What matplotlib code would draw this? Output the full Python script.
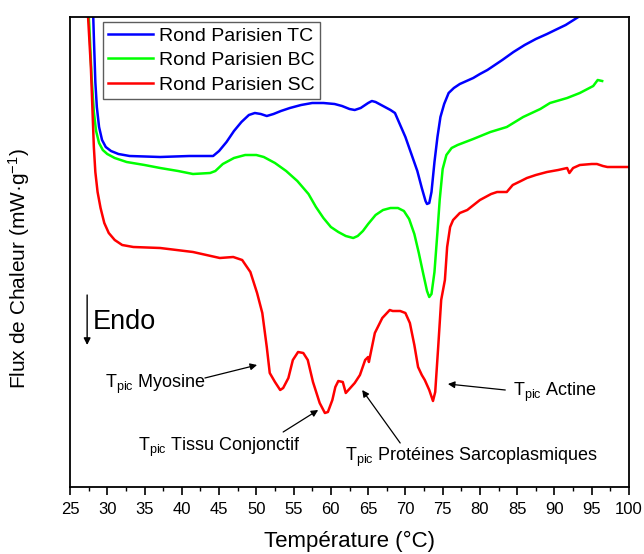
import matplotlib
matplotlib.use("Agg")
import matplotlib.pyplot as plt
from matplotlib.ticker import MultipleLocator

plt.rcParams['font.family'] = ['Liberation Sans', 'DejaVu Sans']
plt.rcParams['mathtext.fontset'] = 'custom'
plt.rcParams['mathtext.rm'] = 'Liberation Sans'
plt.rcParams['mathtext.it'] = 'Liberation Sans'

# ---- data (temperature in °C, heat flux in arbitrary units) ----
t_tc = [28.0, 28.2, 28.4, 28.6, 28.9, 29.3, 29.8, 30.5, 31.5, 33.0, 37.1, 41.0, 44.2,
        45.0, 46.0, 47.0, 48.0, 49.0, 49.8, 50.6, 51.4, 52.3, 53.3, 54.5, 56.0, 57.5,
        59.0, 60.5, 61.5, 62.5, 63.2, 64.0, 65.0, 65.5, 66.0, 67.0, 68.0, 68.6, 69.3,
        70.0, 70.8, 71.6, 72.2, 72.7, 72.9, 73.2, 73.5, 73.9, 74.3, 74.7, 75.2, 75.8,
        76.5, 77.3, 78.2, 79.1, 80.0, 81.0, 82.0, 83.0, 84.5, 86.0, 87.5, 89.0, 90.1,
        91.5, 93.2]
f_tc = [50.0, 45.0, 40.5, 38.0, 36.0, 34.7, 34.0, 33.6, 33.3, 33.1, 33.0, 33.1, 33.1,
        33.6, 34.5, 35.6, 36.5, 37.2, 37.4, 37.3, 37.1, 37.3, 37.6, 37.9, 38.2, 38.4,
        38.4, 38.3, 38.1, 37.8, 37.7, 37.9, 38.4, 38.6, 38.5, 38.1, 37.7, 37.4, 36.2,
        35.0, 33.3, 31.6, 29.9, 28.6, 28.3, 28.4, 29.5, 32.5, 35.0, 37.0, 38.3, 39.4,
        39.9, 40.3, 40.6, 40.9, 41.3, 41.7, 42.2, 42.7, 43.5, 44.2, 44.8, 45.3, 45.7,
        46.2, 47.0]

t_bc = [27.3, 27.6, 27.9, 28.2, 28.5, 28.9, 29.4, 30.0, 31.0, 32.6, 35.0, 37.1, 39.5,
        41.5, 43.8, 44.5, 45.5, 47.0, 48.5, 50.0, 51.0, 52.5, 54.0, 55.5, 57.0, 58.0,
        59.0, 60.0, 61.0, 62.0, 63.0, 63.6, 64.3, 65.0, 66.0, 67.0, 68.0, 69.0, 69.8,
        70.5, 71.2, 71.8, 72.4, 72.9, 73.2, 73.5, 73.9, 74.3, 74.6, 75.0, 75.5, 76.2,
        77.0, 79.1, 81.4, 83.6, 85.8, 88.1, 89.4, 91.7, 93.4, 95.2, 95.8, 96.4]
f_bc = [50.0, 46.0, 41.0, 37.5, 35.6, 34.4, 33.7, 33.3, 32.9, 32.5, 32.2, 31.9, 31.6,
        31.3, 31.4, 31.6, 32.3, 32.9, 33.2, 33.2, 33.0, 32.4, 31.6, 30.6, 29.3, 28.0,
        26.9, 26.0, 25.5, 25.1, 24.9, 25.1, 25.6, 26.3, 27.2, 27.7, 27.9, 27.9, 27.6,
        26.8, 25.3, 23.4, 21.3, 19.6, 19.0, 19.3, 21.5, 25.5, 28.7, 31.8, 33.2, 33.9,
        34.2, 34.8, 35.5, 36.0, 37.0, 37.8, 38.4, 38.9, 39.4, 40.1, 40.7, 40.6]

t_sc = [27.2, 27.5, 27.8, 28.0, 28.2, 28.4, 28.7, 29.1, 29.6, 30.2, 31.0, 32.0, 33.5,
        37.1, 41.5, 45.1, 46.9, 48.1, 49.2, 50.1, 50.8, 51.4, 51.8, 52.5, 53.2, 53.6,
        54.3, 54.9, 55.6, 56.3, 56.9, 57.6, 58.5, 59.2, 59.6, 60.2, 60.6, 61.0, 61.6,
        62.0, 62.6, 63.2, 63.9, 64.6, 65.0, 65.1, 65.9, 66.9, 67.9, 68.3, 69.3, 70.0,
        70.6, 71.2, 71.7, 72.2, 72.6, 73.2, 73.7, 74.0, 74.4, 74.8, 75.3, 75.6, 76.0,
        76.4, 77.3, 78.3, 80.0, 81.5, 82.3, 83.6, 84.4, 85.5, 86.3, 87.5, 89.0, 90.5,
        91.7, 92.0, 92.5, 93.4, 95.0, 95.7, 96.5, 97.1, 98.5, 100.0]
f_sc = [50.0, 46.0, 42.0, 38.0, 34.0, 31.5, 29.5, 27.9, 26.4, 25.4, 24.7, 24.2, 24.0,
        23.9, 23.5, 22.9, 23.0, 22.7, 21.5, 19.4, 17.4, 14.0, 11.4, 10.5, 9.7, 9.9,
        10.9, 12.7, 13.5, 13.4, 12.7, 10.5, 8.4, 7.4, 7.5, 8.7, 10.0, 10.6, 10.5,
        9.4, 9.9, 10.4, 11.2, 12.7, 13.0, 12.5, 15.4, 16.9, 17.7, 17.6, 17.6, 17.4,
        16.4, 14.2, 12.0, 11.2, 10.7, 9.7, 8.6, 9.5, 14.0, 18.7, 20.7, 24.0, 26.0,
        26.7, 27.4, 27.7, 28.7, 29.3, 29.5, 29.5, 30.2, 30.6, 30.9, 31.2, 31.5, 31.7,
        31.9, 31.4, 31.9, 32.2, 32.3, 32.3, 32.1, 32.0, 32.0, 32.0]

series_labels = ["Rond Parisien TC", "Rond Parisien BC", "Rond Parisien SC"]
series_colors = ["#0000FF", "#00FF00", "#FF0000"]

x_label = "Température (°C)"
y_label = r"Flux de Chaleur (mW·g$^{-1}$)"

# ---- figure ----
fig = plt.figure(figsize=(6.44, 5.54), dpi=100)
ax = fig.add_axes([70/644, 1-487/554, 559/644, 470/554])

for t, f, lab, col in zip([t_tc, t_bc, t_sc], [f_tc, f_bc, f_sc], series_labels, series_colors):
    ax.plot(t, f, color=col, lw=1.8, label=lab, solid_joinstyle='round')

ax.set_xlim(25, 100)
ax.set_ylim(0, 47)
ax.xaxis.set_major_locator(MultipleLocator(5))
ax.xaxis.set_minor_locator(MultipleLocator(2.5))
ax.tick_params(axis='x', which='major', direction='out', length=6, width=1.2,
               labelsize=12, pad=5)
ax.tick_params(axis='x', which='minor', direction='out', length=3, width=1.0)
ax.set_yticks([])
for s in ax.spines.values():
    s.set_linewidth(1.3)

ax.set_xlabel(x_label, fontsize=16, labelpad=10)
ax.set_ylabel(y_label, fontsize=15)
ax.yaxis.set_label_coords(-0.068, 0.464)

leg = ax.legend(loc='upper left', bbox_to_anchor=(0.059, 0.989), borderaxespad=0,
                fontsize=14, frameon=True, fancybox=False, edgecolor='#333333',
                handlelength=2.3, handletextpad=0.35, labelspacing=0.36,
                borderpad=0.25)
leg.get_frame().set_linewidth(1.0)

# Endo arrow
ax.annotate("", xy=(27.3, 14.2), xytext=(27.3, 19.2),
            arrowprops=dict(arrowstyle='-|>', color='black', lw=1.0,
                            mutation_scale=10, shrinkA=0, shrinkB=0))
ax.text(28.0, 16.5, "Endo", fontsize=19.5, va='center', ha='left')

arrow_kw = dict(arrowstyle='-|>', color='black', lw=0.9, mutation_scale=10,
                shrinkA=0, shrinkB=0)
annots = [
    (r"T$_\mathregular{pic}$ Myosine", (29.7, 10.3), (43.1, 10.9), (50.1, 12.2)),
    (r"T$_\mathregular{pic}$ Tissu Conjonctif", (34.1, 4.0), (53.6, 5.5), (58.3, 7.7)),
    (r"T$_\mathregular{pic}$ Protéines Sarcoplasmiques", (61.9, 3.0), (69.3, 4.4), (64.2, 9.7)),
    (r"T$_\mathregular{pic}$ Actine", (84.4, 9.5), (83.4, 9.7), (75.7, 10.3)),
]
for txt, pos, a0, a1 in annots:
    ax.text(pos[0], pos[1], txt, fontsize=13, va='center', ha='left')
    ax.annotate("", xy=a1, xytext=a0, arrowprops=arrow_kw)

fig.savefig("out.png", dpi=100)
